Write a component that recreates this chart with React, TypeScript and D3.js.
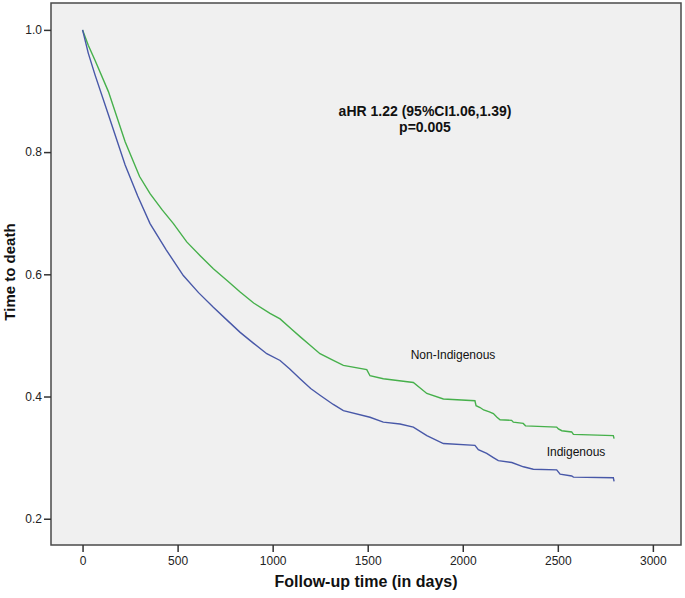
import React, { useEffect, useRef } from 'react';
import * as d3 from 'd3';

// Kaplan-Meier curves: [days, survival]
const nonIndigenous: [number, number][] = [
  [0, 1.0], [30, 0.975], [66, 0.95], [136, 0.899], [224, 0.817], [300, 0.76],
  [355, 0.732], [420, 0.705], [478, 0.683], [548, 0.653], [620, 0.63],
  [688, 0.609], [760, 0.59], [829, 0.571], [900, 0.553], [986, 0.536],
  [1039, 0.527], [1100, 0.51], [1144, 0.498], [1197, 0.484], [1249, 0.47],
  [1319, 0.459], [1372, 0.451], [1495, 0.444], [1512, 0.434], [1582, 0.429],
  [1740, 0.423], [1811, 0.405], [1898, 0.396], [2064, 0.393], [2070, 0.385],
  [2091, 0.382], [2110, 0.378], [2140, 0.375], [2161, 0.372], [2180, 0.366],
  [2196, 0.362], [2257, 0.361], [2266, 0.358], [2318, 0.356], [2330, 0.352],
  [2494, 0.35], [2503, 0.347], [2521, 0.344], [2573, 0.342], [2582, 0.338],
  [2792, 0.336], [2796, 0.331],
];

const indigenous: [number, number][] = [
  [0, 1.0], [30, 0.962], [66, 0.926], [136, 0.861], [224, 0.779], [290, 0.728],
  [355, 0.683], [440, 0.64], [530, 0.598], [610, 0.57], [688, 0.546],
  [760, 0.525], [829, 0.505], [900, 0.487], [969, 0.47], [1039, 0.459],
  [1090, 0.445], [1144, 0.429], [1200, 0.413], [1249, 0.402], [1319, 0.387],
  [1372, 0.377], [1512, 0.366], [1582, 0.358], [1670, 0.355], [1740, 0.35],
  [1811, 0.336], [1898, 0.323], [2064, 0.32], [2082, 0.313], [2126, 0.307],
  [2161, 0.3], [2187, 0.295], [2258, 0.292], [2319, 0.285], [2371, 0.281],
  [2494, 0.28], [2512, 0.273], [2573, 0.27], [2582, 0.268], [2792, 0.267],
  [2796, 0.261],
];

const xTicks = [0, 500, 1000, 1500, 2000, 2500, 3000];
const yTicks = [0.2, 0.4, 0.6, 0.8, 1.0];

const annotation = ['aHR 1.22 (95%CI1.06,1.39)', 'p=0.005'];

const W = 685;
const H = 598;
const FONT = "'Liberation Sans', Arial, sans-serif";

const App = () => {
  const svgRef = useRef<SVGSVGElement | null>(null);

  useEffect(() => {
    if (!svgRef.current) return;
    const svg = d3.select(svgRef.current);
    svg.selectAll('*').remove();

    const left = 51, right = 681, top = 3, bottom = 545;

    const x = d3.scaleLinear().domain([-166, 3148]).range([left, right]);
    const y = d3.scaleLinear().domain([0.157, 1.044]).range([bottom, top]);

    svg.append('rect')
      .attr('x', left).attr('y', top)
      .attr('width', right - left).attr('height', bottom - top)
      .attr('fill', '#f0f0f0')
      .attr('stroke', '#4a4a4a')
      .attr('stroke-width', 1.5);

    // y axis
    const yAxis = svg.append('g')
      .attr('transform', `translate(${left},0)`)
      .call(d3.axisLeft(y).tickValues(yTicks).tickFormat(d3.format('.1f')).tickSize(7).tickPadding(2));
    yAxis.select('.domain').remove();
    yAxis.selectAll('line').attr('stroke', '#333').attr('stroke-width', 1.5);
    yAxis.selectAll('text').attr('font-family', FONT).attr('font-size', 12).attr('fill', '#222');

    // x axis
    const xAxis = svg.append('g')
      .attr('transform', `translate(0,${bottom})`)
      .call(d3.axisBottom(x).tickValues(xTicks).tickFormat(d3.format('d')).tickSize(7).tickPadding(4));
    xAxis.select('.domain').remove();
    xAxis.selectAll('line').attr('stroke', '#333').attr('stroke-width', 1.5);
    xAxis.selectAll('text').attr('font-family', FONT).attr('font-size', 12).attr('fill', '#222');

    const line = d3.line<[number, number]>()
      .x(d => x(d[0]))
      .y(d => y(d[1]));

    svg.append('path')
      .datum(nonIndigenous)
      .attr('d', line)
      .attr('fill', 'none')
      .attr('stroke', '#46b04b')
      .attr('stroke-width', 1.4);

    svg.append('path')
      .datum(indigenous)
      .attr('d', line)
      .attr('fill', 'none')
      .attr('stroke', '#4858a8')
      .attr('stroke-width', 1.4);

    // labels on the curves
    svg.append('text')
      .attr('x', 453).attr('y', 359)
      .attr('text-anchor', 'middle')
      .attr('font-family', FONT).attr('font-size', 12).attr('fill', '#111')
      .text('Non-Indigenous');

    svg.append('text')
      .attr('x', 576).attr('y', 456)
      .attr('text-anchor', 'middle')
      .attr('font-family', FONT).attr('font-size', 12).attr('fill', '#111')
      .text('Indigenous');

    // hazard ratio note
    svg.append('g')
      .selectAll('text')
      .data(annotation)
      .enter()
      .append('text')
      .attr('x', 425)
      .attr('y', (d, i) => 116 + i * 16)
      .attr('text-anchor', 'middle')
      .attr('font-family', FONT).attr('font-size', 14).attr('font-weight', 'bold')
      .attr('fill', '#111')
      .text(d => d);

    // axis titles
    svg.append('text')
      .attr('x', (left + right) / 2).attr('y', 587)
      .attr('text-anchor', 'middle')
      .attr('font-family', FONT).attr('font-size', 16).attr('font-weight', 'bold')
      .attr('fill', '#111')
      .text('Follow-up time (in days)');

    svg.append('text')
      .attr('transform', `translate(15,272) rotate(-90)`)
      .attr('text-anchor', 'middle')
      .attr('font-family', FONT).attr('font-size', 15).attr('font-weight', 'bold')
      .attr('fill', '#111')
      .text('Time to death');
  }, []);

  return (
    <svg
      ref={svgRef}
      width={W}
      height={H}
      style={{ position: 'absolute', left: 0, top: 0, background: '#fff' }}
    />
  );
};

export default App;
